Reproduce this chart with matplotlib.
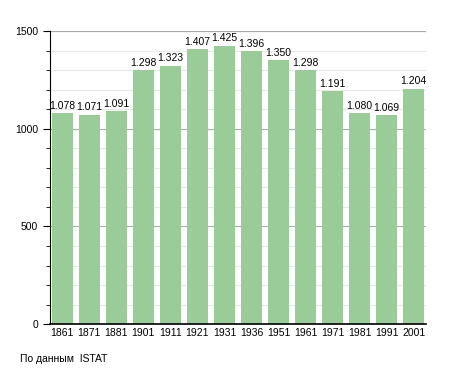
import matplotlib.pyplot as plt
from matplotlib.ticker import MultipleLocator

years = ['1861', '1871', '1881', '1901', '1911', '1921', '1931',
         '1936', '1951', '1961', '1971', '1981', '1991', '2001']
population = [1078, 1071, 1091, 1298, 1323, 1407, 1425,
              1396, 1350, 1298, 1191, 1080, 1069, 1204]

fig = plt.figure(figsize=(4.55, 3.73), dpi=100)
ax = fig.add_axes([0.11, 0.131, 0.826, 0.786])

x = range(len(years))
ax.bar(x, population, width=0.78, color='#99cc99', zorder=2)

for i, v in enumerate(population):
    ax.text(i, v + 12, f'{v:,}'.replace(',', '.'), ha='center', va='bottom',
            fontsize=7.5, family='Liberation Sans')

ax.set_xlim(-0.45, len(years) - 0.55)
ax.set_ylim(0, 1500)
ax.set_xticks(list(x))
ax.set_xticklabels(years)
ax.yaxis.set_major_locator(MultipleLocator(500))
ax.yaxis.set_minor_locator(MultipleLocator(100))
# light minor grid, darker major grid (drawn behind the bars)
ax.grid(axis='y', which='minor', color='#e8e8e8', linewidth=0.8, zorder=0)
ax.grid(axis='y', which='major', color='#aaaaaa', linewidth=0.8, zorder=0)
ax.axhline(1500, color='#aaaaaa', linewidth=0.8, zorder=1)

for s in ['top', 'right']:
    ax.spines[s].set_visible(False)
ax.spines['left'].set_linewidth(0.8)
ax.spines['bottom'].set_linewidth(1.2)
ax.tick_params(axis='x', length=0, labelsize=7.5, pad=3)
ax.tick_params(axis='y', which='major', length=5, labelsize=7.5)
ax.tick_params(axis='y', which='minor', length=3)
for lbl in ax.get_xticklabels() + ax.get_yticklabels():
    lbl.set_family('Liberation Sans')

fig.text(0.044, 0.03, 'По данным  ISTAT', fontsize=7.5, family='Liberation Sans')

fig.savefig('out.png')
